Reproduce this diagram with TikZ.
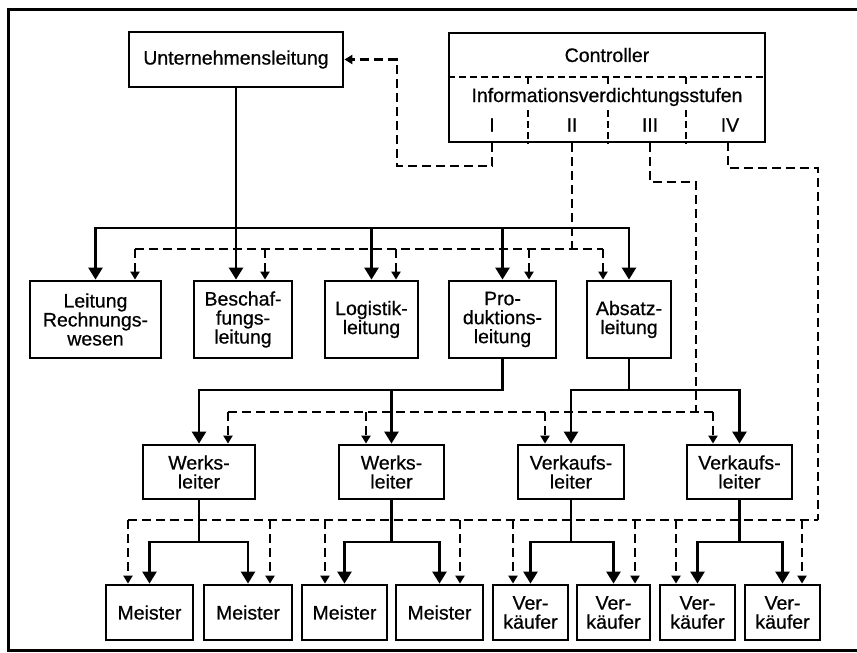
\documentclass[tikz,border=0pt]{standalone}
\usepackage{fontspec}
\setmainfont{Liberation Sans}[FakeBold=0.6]
\usetikzlibrary{arrows.meta}
\begin{document}
\begin{tikzpicture}[x=1pt,y=-1pt,
  box/.style={draw, line width=2.8pt, inner sep=0pt, align=center,
    font=\fontsize{19.5}{19}\selectfont},
  lbl/.style={inner sep=1pt, font=\fontsize{19.5}{19}\selectfont},
  sline/.style={line width=2.5pt},
  sarr/.style={sline, -{Triangle[width=14pt,length=12pt]}},
  dline/.style={line width=2.5pt, dash pattern=on 9pt off 5pt},
  darr/.style={dline, -{Triangle[width=9pt,length=8pt]}},
  inner/.style={line width=1.9pt, dash pattern=on 7pt off 4pt}]
\useasboundingbox (0,0) rectangle (857,653);
\fill[white] (0,0) rectangle (857,653);

% open frame
\draw[line width=3pt] (857,9) -- (8,9) -- (8,650) -- (857,650);

% top level
\node[box, minimum width=214pt, minimum height=55pt] (U) at (236,59.5) {Unternehmensleitung};
\node[box, minimum width=316pt, minimum height=109pt] (C) at (607,87.5) {};

% controller interior
\coordinate (csep) at (0,77);
\draw[inner] (C.west |- csep) -- (C.east |- csep);
\coordinate (dv1) at (528,77);
\coordinate (dv2) at (608,77);
\coordinate (dv3) at (686,77);
\draw[inner] (dv1) -- (dv1 |- C.south);
\draw[inner] (dv2) -- (dv2 |- C.south);
\draw[inner] (dv3) -- (dv3 |- C.south);
\node[lbl] (ctitle) at (607,55) {Controller};
\node[lbl, fill=white] (cstufen) at (607,97) {Informationsverdichtungsstufen};
\node[lbl, fill=white] (nI) at (492,125) {I};
\node[lbl, fill=white] (nII) at (572,125) {II};
\node[lbl, fill=white] (nIII) at (650,125) {III};
\node[lbl, fill=white] (nIV) at (730,125) {IV};

% second level
\node[box, minimum width=131pt, minimum height=77pt] (LRW) at (95.5,319.5) {Leitung\\Rechnungs-\\wesen};
\node[box, minimum width=98pt, minimum height=77pt] (BL) at (243,319.5) {Beschaf-\\fungs-\\leitung};
\node[box, minimum width=93pt, minimum height=77pt] (LL) at (371.5,319.5) {Logistik-\\leitung};
\node[box, minimum width=107pt, minimum height=77pt] (PL) at (502.5,319.5) {Pro-\\duktions-\\leitung};
\node[box, minimum width=84pt, minimum height=77pt] (AL) at (629,319.5) {Absatz-\\leitung};

% third level
\node[box, minimum width=112pt, minimum height=54pt] (W1) at (199,472) {Werks-\\leiter};
\node[box, minimum width=105pt, minimum height=54pt] (W2) at (391.5,472) {Werks-\\leiter};
\node[box, minimum width=106pt, minimum height=54pt] (V1) at (571,472) {Verkaufs-\\leiter};
\node[box, minimum width=105pt, minimum height=54pt] (V2) at (739.5,472) {Verkaufs-\\leiter};

% fourth level
\node[box, minimum width=87pt, minimum height=55pt] (M1) at (149.5,612.5) {Meister};
\node[box, minimum width=88pt, minimum height=55pt] (M2) at (248,612.5) {Meister};
\node[box, minimum width=85pt, minimum height=55pt] (M3) at (344.5,612.5) {Meister};
\node[box, minimum width=87pt, minimum height=55pt] (M4) at (439.5,612.5) {Meister};
\node[box, minimum width=75pt, minimum height=55pt] (K1) at (530.5,612.5) {Ver-\\käufer};
\node[box, minimum width=73pt, minimum height=55pt] (K2) at (613.5,612.5) {Ver-\\käufer};
\node[box, minimum width=75pt, minimum height=55pt] (K3) at (697.5,612.5) {Ver-\\käufer};
\node[box, minimum width=75pt, minimum height=55pt] (K4) at (782.5,612.5) {Ver-\\käufer};

% solid line of command
\coordinate (b2) at (0,228);
\coordinate (b3) at (0,390);
\coordinate (b4) at (0,542);
\draw[sarr] (U.south) |- (LRW.north |- b2) -- (LRW.north);
\draw[sarr] (U.south) -- (U.south |- BL.north);
\draw[sarr] (U.south) |- (LL.north |- b2) -- (LL.north);
\draw[sarr] (U.south) |- (PL.north |- b2) -- (PL.north);
\draw[sarr] (U.south) |- (AL.north |- b2) -- (AL.north);

\draw[sarr] (PL.south) |- (W1.north |- b3) -- (W1.north);
\draw[sarr] (PL.south) |- (W2.north |- b3) -- (W2.north);
\draw[sarr] (AL.south) |- (V1.north |- b3) -- (V1.north);
\draw[sarr] (AL.south) |- (V2.north |- b3) -- (V2.north);

\draw[sarr] (W1.south) |- (M1.north |- b4) -- (M1.north);
\draw[sarr] (W1.south) |- (M2.north |- b4) -- (M2.north);
\draw[sarr] (W2.south) |- (M3.north |- b4) -- (M3.north);
\draw[sarr] (W2.south) |- (M4.north |- b4) -- (M4.north);
\draw[sarr] (V1.south) |- (K1.north |- b4) -- (K1.north);
\draw[sarr] (V1.south) |- (K2.north |- b4) -- (K2.north);
\draw[sarr] (V2.south) |- (K3.north |- b4) -- (K3.north);
\draw[sarr] (V2.south) |- (K4.north |- b4) -- (K4.north);

% stage I: back to the management
\coordinate (k1) at (397,166);
\draw[darr] (nI |- C.south) |- (k1) |- (U.east);

% stage II: second level
\coordinate (d2L) at (135,249);
\coordinate (d2B) at (265,249);
\coordinate (d2C) at (396,249);
\coordinate (d2D) at (529,249);
\coordinate (d2R) at (603,249);
\draw[dline] (nII |- C.south) -- (nII |- d2R);
\draw[dline] (d2L) -- (d2R);
\draw[darr] (d2L) -- (d2L |- LRW.north);
\draw[darr] (d2B) -- (d2B |- BL.north);
\draw[darr] (d2C) -- (d2C |- LL.north);
\draw[darr] (d2D) -- (d2D |- PL.north);
\draw[darr] (d2R) -- (d2R |- AL.north);

% stage III: third level
\coordinate (k3) at (696,182);
\coordinate (d3L) at (228,412);
\coordinate (d3B) at (366,412);
\coordinate (d3C) at (545,412);
\coordinate (d3R) at (713,412);
\draw[dline] (nIII |- C.south) |- (k3) -- (k3 |- d3R);
\draw[dline] (d3L) -- (d3R);
\draw[darr] (d3L) -- (d3L |- W1.north);
\draw[darr] (d3B) -- (d3B |- W2.north);
\draw[darr] (d3C) -- (d3C |- V1.north);
\draw[darr] (d3R) -- (d3R |- V2.north);

% stage IV: fourth level
\coordinate (c4) at (728,142);
\coordinate (k4) at (818,168);
\coordinate (d4a) at (128,520);
\coordinate (d4b) at (270,520);
\coordinate (d4c) at (325,520);
\coordinate (d4d) at (460,520);
\coordinate (d4e) at (513,520);
\coordinate (d4f) at (635,520);
\coordinate (d4g) at (676,520);
\coordinate (d4h) at (802,520);
\draw[dline] (c4) |- (k4) -- (k4 |- d4a);
\draw[dline] (d4a) -- (k4 |- d4a);
\draw[darr] (d4a) -- (d4a |- M1.north);
\draw[darr] (d4b) -- (d4b |- M2.north);
\draw[darr] (d4c) -- (d4c |- M3.north);
\draw[darr] (d4d) -- (d4d |- M4.north);
\draw[darr] (d4e) -- (d4e |- K1.north);
\draw[darr] (d4f) -- (d4f |- K2.north);
\draw[darr] (d4g) -- (d4g |- K3.north);
\draw[darr] (d4h) -- (d4h |- K4.north);
\end{tikzpicture}
\end{document}
